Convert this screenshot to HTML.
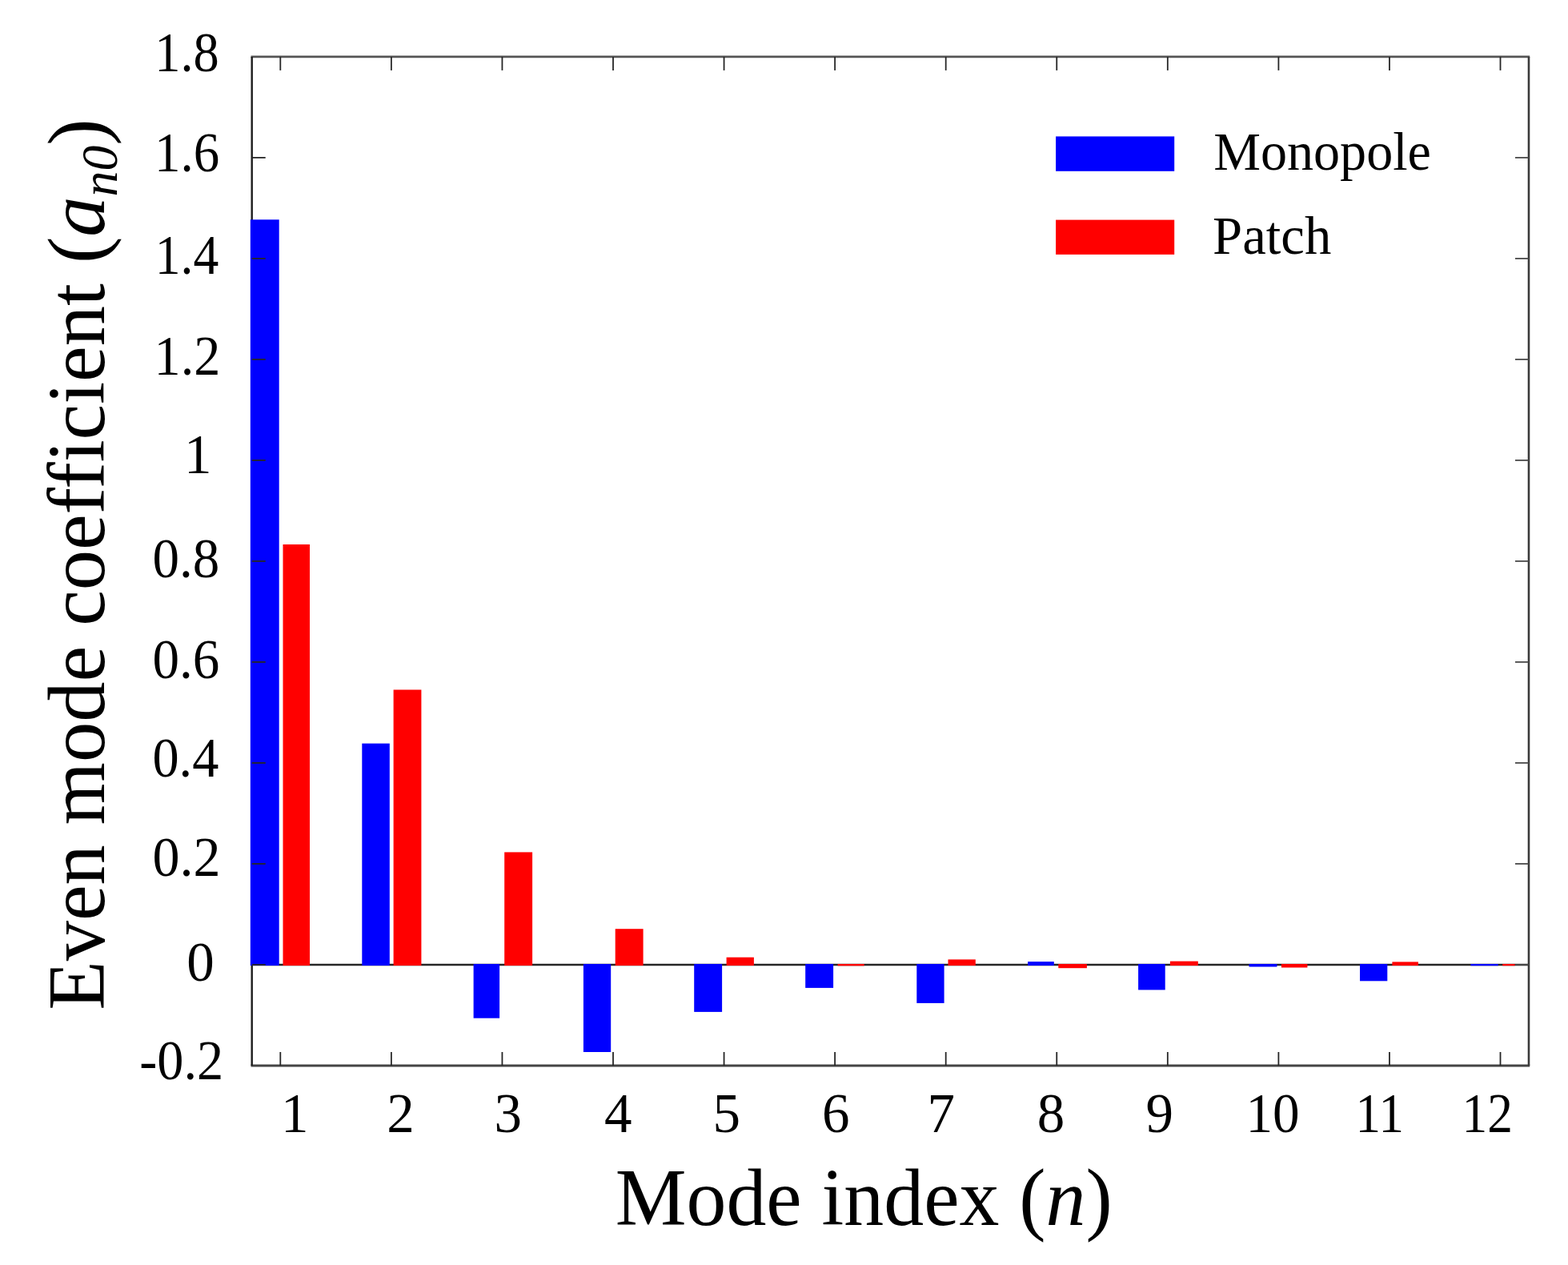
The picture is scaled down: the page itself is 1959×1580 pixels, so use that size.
<!DOCTYPE html><html><head><meta charset="utf-8"><title>Even mode coefficient chart</title>
<style>html,body{margin:0;padding:0;background:#fff;overflow:hidden;}svg{display:block;}text{font-family:"Liberation Serif","Times New Roman",serif;fill:#000;}</style></head><body>
<svg width="1959" height="1580" viewBox="0 0 1959 1580">
<rect x="0" y="0" width="1959" height="1580" fill="#fff"/>
<line x1="313.5" y1="70.9" x2="1911.2" y2="70.9" stroke="#555" stroke-width="2.9"/>
<line x1="313.5" y1="1331" x2="1911.2" y2="1331" stroke="#444" stroke-width="2.8"/>
<line x1="314.7" y1="70.9" x2="314.7" y2="1331" stroke="#1c1c1c" stroke-width="2.4"/>
<line x1="1910" y1="70.9" x2="1910" y2="1331" stroke="#3a3a3a" stroke-width="2.6"/>
<line x1="314.7" y1="1205" x2="1910" y2="1205" stroke="#262626" stroke-width="2.4"/>
<rect x="312.8" y="274.3" width="35.9" height="931.7" fill="#0000ff"/>
<rect x="353.5" y="680" width="33.5" height="526" fill="#ff0000"/>
<rect x="452.3" y="928.6" width="34.5" height="277.4" fill="#0000ff"/>
<rect x="491.6" y="861.5" width="34.8" height="344.5" fill="#ff0000"/>
<rect x="591.6" y="1204" width="32.5" height="67.7" fill="#0000ff"/>
<rect x="630.2" y="1064.4" width="34.9" height="141.6" fill="#ff0000"/>
<rect x="728.9" y="1204" width="34.3" height="110" fill="#0000ff"/>
<rect x="768.7" y="1160.2" width="34.9" height="45.8" fill="#ff0000"/>
<rect x="867.2" y="1204" width="34.9" height="59.9" fill="#0000ff"/>
<rect x="907.6" y="1195.7" width="34.3" height="10.3" fill="#ff0000"/>
<rect x="1006.2" y="1204" width="34.9" height="29.9" fill="#0000ff"/>
<rect x="1046.6" y="1204" width="33.1" height="2.3" fill="#ff0000"/>
<rect x="1145.3" y="1204" width="34.3" height="48.9" fill="#0000ff"/>
<rect x="1184.5" y="1198.4" width="34.3" height="7.6" fill="#ff0000"/>
<rect x="1284.1" y="1201.1" width="32.7" height="4.9" fill="#0000ff"/>
<rect x="1322.3" y="1204" width="35.6" height="5.2" fill="#ff0000"/>
<rect x="1422.1" y="1204" width="33.6" height="32.4" fill="#0000ff"/>
<rect x="1461.9" y="1200.6" width="34.9" height="5.4" fill="#ff0000"/>
<rect x="1560.5" y="1204" width="34.9" height="3.5" fill="#0000ff"/>
<rect x="1600.9" y="1204" width="32.5" height="4.5" fill="#ff0000"/>
<rect x="1699" y="1204" width="34.3" height="21.3" fill="#0000ff"/>
<rect x="1739.4" y="1201.4" width="32.5" height="4.6" fill="#ff0000"/>
<rect x="1837.4" y="1204" width="34.3" height="2.2" fill="#0000ff"/>
<rect x="1877.2" y="1204" width="15.4" height="2.2" fill="#ff0000"/>
<g stroke="#262626" stroke-width="1.8" fill="none"><line x1="350.3" y1="70.9" x2="350.3" y2="87.9"/><line x1="350.3" y1="1331" x2="350.3" y2="1314"/><line x1="488.87" y1="70.9" x2="488.87" y2="87.9"/><line x1="488.87" y1="1331" x2="488.87" y2="1314"/><line x1="627.43" y1="70.9" x2="627.43" y2="87.9"/><line x1="627.43" y1="1331" x2="627.43" y2="1314"/><line x1="766" y1="70.9" x2="766" y2="87.9"/><line x1="766" y1="1331" x2="766" y2="1314"/><line x1="904.56" y1="70.9" x2="904.56" y2="87.9"/><line x1="904.56" y1="1331" x2="904.56" y2="1314"/><line x1="1043.12" y1="70.9" x2="1043.12" y2="87.9"/><line x1="1043.12" y1="1331" x2="1043.12" y2="1314"/><line x1="1181.69" y1="70.9" x2="1181.69" y2="87.9"/><line x1="1181.69" y1="1331" x2="1181.69" y2="1314"/><line x1="1320.25" y1="70.9" x2="1320.25" y2="87.9"/><line x1="1320.25" y1="1331" x2="1320.25" y2="1314"/><line x1="1458.82" y1="70.9" x2="1458.82" y2="87.9"/><line x1="1458.82" y1="1331" x2="1458.82" y2="1314"/><line x1="1597.38" y1="70.9" x2="1597.38" y2="87.9"/><line x1="1597.38" y1="1331" x2="1597.38" y2="1314"/><line x1="1735.95" y1="70.9" x2="1735.95" y2="87.9"/><line x1="1735.95" y1="1331" x2="1735.95" y2="1314"/><line x1="1874.51" y1="70.9" x2="1874.51" y2="87.9"/><line x1="1874.51" y1="1331" x2="1874.51" y2="1314"/><line x1="314.7" y1="196.9" x2="331.7" y2="196.9"/><line x1="1910" y1="196.9" x2="1893" y2="196.9" stroke="#4a4a4a"/><line x1="314.7" y1="322.9" x2="331.7" y2="322.9"/><line x1="1910" y1="322.9" x2="1893" y2="322.9" stroke="#4a4a4a"/><line x1="314.7" y1="448.9" x2="331.7" y2="448.9"/><line x1="1910" y1="448.9" x2="1893" y2="448.9" stroke="#4a4a4a"/><line x1="314.7" y1="574.9" x2="331.7" y2="574.9"/><line x1="1910" y1="574.9" x2="1893" y2="574.9" stroke="#4a4a4a"/><line x1="314.7" y1="700.9" x2="331.7" y2="700.9"/><line x1="1910" y1="700.9" x2="1893" y2="700.9" stroke="#4a4a4a"/><line x1="314.7" y1="826.9" x2="331.7" y2="826.9"/><line x1="1910" y1="826.9" x2="1893" y2="826.9" stroke="#4a4a4a"/><line x1="314.7" y1="952.9" x2="331.7" y2="952.9"/><line x1="1910" y1="952.9" x2="1893" y2="952.9" stroke="#4a4a4a"/><line x1="314.7" y1="1078.9" x2="331.7" y2="1078.9"/><line x1="1910" y1="1078.9" x2="1893" y2="1078.9" stroke="#4a4a4a"/><line x1="314.7" y1="1204.9" x2="331.7" y2="1204.9"/><line x1="1910" y1="1204.9" x2="1893" y2="1204.9" stroke="#4a4a4a"/></g>
<text x="193.35" y="88.5" font-size="69" textLength="80.4" lengthAdjust="spacingAndGlyphs">1.8</text>
<text x="193.09" y="214.2" font-size="69" textLength="81.14" lengthAdjust="spacingAndGlyphs">1.6</text>
<text x="193.81" y="342.3" font-size="69" textLength="79.48" lengthAdjust="spacingAndGlyphs">1.4</text>
<text x="192.58" y="468" font-size="69" textLength="82.77" lengthAdjust="spacingAndGlyphs">1.2</text>
<text x="229.89" y="591" font-size="69">1</text>
<text x="190.45" y="721" font-size="69" textLength="83.81" lengthAdjust="spacingAndGlyphs">0.8</text>
<text x="190.45" y="846.5" font-size="69" textLength="83.85" lengthAdjust="spacingAndGlyphs">0.6</text>
<text x="190.48" y="969.8" font-size="69" textLength="82.86" lengthAdjust="spacingAndGlyphs">0.4</text>
<text x="190.41" y="1094" font-size="69" textLength="85.05" lengthAdjust="spacingAndGlyphs">0.2</text>
<text x="233.15" y="1224.5" font-size="69">0</text>
<text x="174.14" y="1348.3" font-size="69" textLength="105.02" lengthAdjust="spacingAndGlyphs">-0.2</text>
<text x="350.89" y="1414.2" font-size="69">1</text>
<text x="483.19" y="1414.2" font-size="69">2</text>
<text x="617.55" y="1414.2" font-size="69">3</text>
<text x="754.92" y="1414.2" font-size="69">4</text>
<text x="890.44" y="1414.2" font-size="69">5</text>
<text x="1027" y="1414.2" font-size="69">6</text>
<text x="1158.47" y="1414.2" font-size="69">7</text>
<text x="1295.65" y="1414.2" font-size="69">8</text>
<text x="1431.6" y="1414.2" font-size="69">9</text>
<text x="1556.5" y="1414.2" font-size="69" textLength="67.16" lengthAdjust="spacingAndGlyphs">10</text>
<text x="1693.47" y="1414.2" font-size="69" textLength="60.61" lengthAdjust="spacingAndGlyphs">11</text>
<text x="1826.62" y="1414.2" font-size="69" textLength="63.48" lengthAdjust="spacingAndGlyphs">12</text>
<rect x="1319.1" y="170.4" width="148.1" height="43.4" fill="#0000ff"/>
<rect x="1319.1" y="274.6" width="148.1" height="43.3" fill="#ff0000"/>
<text x="1516.2" y="212" font-size="67" textLength="271.7" lengthAdjust="spacingAndGlyphs">Monopole</text>
<text x="1515.08" y="317.2" font-size="67" textLength="148.2" lengthAdjust="spacingAndGlyphs">Patch</text>
<text x="768.72" y="1529.6" font-size="101" textLength="621.06" lengthAdjust="spacingAndGlyphs">Mode index (<tspan font-style="italic">n</tspan>)</text>
<text transform="translate(129.8,0) rotate(-90)" x="-1261.69" y="0" font-size="101" textLength="1113.41" lengthAdjust="spacingAndGlyphs">Even mode coefficient (<tspan font-style="italic">a</tspan><tspan font-style="italic" font-size="64" dy="16">n0</tspan><tspan dy="-16">)</tspan></text>
</svg></body></html>
